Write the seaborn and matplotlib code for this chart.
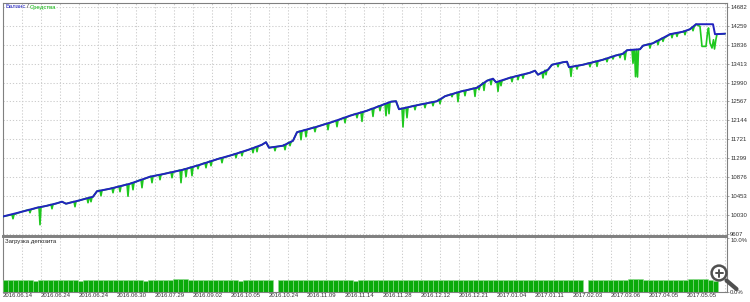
import numpy as np
import pandas as pd
import matplotlib
matplotlib.use("Agg")
import matplotlib.pyplot as plt
from matplotlib.patches import Circle
from matplotlib.lines import Line2D
from matplotlib.transforms import IdentityTransform
import seaborn as sns

# ---------------- data ----------------
bal_deal = [0, 17, 34, 44, 54, 59, 63, 77, 90, 94, 107, 127, 147, 162, 180, 197, 214, 230, 247, 259,
            263, 266, 280, 290, 294, 314, 330, 347, 364, 380, 388, 393, 396, 414, 434, 442, 457, 474, 484, 490,
            493, 507, 527, 532, 535, 545, 549, 560, 564, 566, 580, 600, 612, 620, 624, 637, 640, 650, 667, 680,
            687, 693, 710, 712, 722]
bal_value = [10000, 10095, 10196, 10240, 10296, 10330, 10285, 10363, 10441, 10564, 10620, 10731, 10888, 10955, 11044, 11155, 11278, 11379, 11501, 11602,
             11658, 11535, 11580, 11691, 11881, 12004, 12115, 12249, 12361, 12495, 12562, 12573, 12394, 12483, 12573, 12684, 12785, 12874, 13030, 13075,
             12997, 13097, 13209, 13254, 13164, 13276, 13387, 13443, 13454, 13332, 13387, 13499, 13588, 13633, 13711, 13733, 13812, 13867, 14068, 14124,
             14180, 14291, 14291, 14068, 14079]

dip_deal = [10, 27, 37, 49, 72, 85, 88, 98, 110, 117, 125, 130, 139, 149, 157, 169, 178, 183, 189, 195,
            203, 208, 219, 233, 239, 250, 254, 272, 282, 287, 298, 303, 312, 325, 334, 342, 354, 359, 370, 377,
            383, 386, 400, 404, 412, 422, 430, 437, 449, 455, 462, 472, 476, 481, 488, 495, 498, 509, 515, 520,
            540, 543, 555, 568, 574, 587, 594, 604, 610, 617, 622, 630, 632.5, 634.5, 647, 655, 660, 669, 674, 682,
            690]
dip_top = [10042, 10153, 10209, 10267, 10334, 10410, 10430, 10582, 10635, 10676, 10720, 10754, 10825, 10897, 10932, 10990, 11035, 11064, 11102, 11142,
           11200, 11236, 11309, 11401, 11443, 11526, 11559, 11555, 11602, 11658, 11905, 11937, 11992, 12079, 12142, 12209, 12296, 12327, 12410, 12470,
           12519, 12544, 12414, 12434, 12475, 12519, 12555, 12615, 12731, 12771, 12812, 12863, 12905, 12986, 13059, 13008, 13028, 13108, 13142, 13169,
           13220, 13265, 13414, 13338, 13363, 13425, 13466, 13528, 13573, 13615, 13666, 13722, 13722, 13727, 13849, 13925, 13977, 14077, 14093, 14140,
           14224]
dip_low = [9950, 10084, 9816, 10173, 10218, 10307, 10330, 10464, 10530, 10553, 10452, 10597, 10642, 10754, 10821, 10865, 10754, 10888, 10910, 11066,
           11088, 11133, 11200, 11312, 11356, 11423, 11446, 11468, 11490, 11580, 11713, 11780, 11892, 11937, 12004, 12093, 12204, 12122, 12233, 12361,
           12249, 12294, 11997, 12204, 12383, 12428, 12472, 12517, 12673, 12562, 12696, 12680, 12829, 12814, 12941, 12792, 12919, 13008, 13053, 13086,
           13091, 13164, 13343, 13126, 13291, 13343, 13350, 13454, 13515, 13544, 13499, 13420, 13120, 13113, 13760, 13834, 13908, 13990, 14019, 14057,
           14146]

eq_tail_deal = [693, 697, 699, 703, 704.5, 705.5, 707, 709, 710.5, 711.5, 713, 714, 722]
eq_tail_value = [14291, 14242, 13796, 13796, 14102, 14207, 13872, 13760, 13945, 13738, 13961, 14068, 14079]

load = [2.1, 2.2, 2.1, 2.1, 2.2, 2.1, 2.0, 2.1, 2.2, 2.1,
        2.1, 2.1, 2.2, 2.1, 2.1, 2.0, 2.1, 2.2, 2.1, 2.1,
        2.1, 2.2, 2.1, 2.1, 2.1, 2.2, 2.1, 2.1, 2.0, 2.1,
        2.1, 2.2, 2.1, 2.1, 2.4, 2.4, 2.4, 2.1, 2.1, 2.2,
        2.1, 2.1, 2.1, 2.2, 2.1, 2.1, 2.1, 2.0, 2.1, 2.1,
        2.2, 2.1, 2.1, 2.1, 0.0, 2.1, 2.2, 2.1, 2.1, 2.1,
        2.1, 2.2, 2.1, 2.1, 2.1, 2.1, 2.2, 2.1, 2.1, 2.1,
        2.0, 2.1, 2.1, 2.1, 2.1, 2.1, 2.1, 2.1, 2.2, 2.1,
        2.1, 2.1, 2.1, 2.1, 2.1, 2.2, 2.1, 2.1, 2.1, 2.1,
        2.1, 2.1, 2.1, 2.1, 2.1, 2.1, 2.1, 2.1, 2.1, 2.1,
        2.1, 2.1, 2.1, 2.1, 2.1, 2.1, 2.1, 2.1, 2.1, 2.1,
        2.1, 2.1, 2.1, 2.1, 2.1, 2.1, 0.0, 2.1, 2.1, 2.1,
        2.1, 2.1, 2.1, 2.1, 2.1, 2.3, 2.3, 2.3, 2.1, 2.1,
        2.1, 2.1, 2.1, 2.1, 2.1, 2.1, 2.1, 2.3, 2.3, 2.3,
        2.3, 2.1, 2.0]

y_ticks = [9607, 10030, 10453, 10876, 11299, 11721, 12144, 12567, 12990, 13413, 13836, 14259, 14682]
x_labels = ["2016.06.14", "2016.06.24", "2016.06.24", "2016.06.30", "2016.07.29", "2016.09.02",
            "2016.10.05", "2016.10.24", "2016.11.09", "2016.11.14", "2016.11.28", "2016.12.12",
            "2016.12.21", "2017.01.04", "2017.01.11", "2017.02.03", "2017.03.06", "2017.04.05",
            "2017.05.05"]

# ---------------- build tables ----------------
bal_df = pd.DataFrame({"deal": bal_deal, "value": bal_value})

eq_d = [d for d in bal_deal if d < 693]
eq_v = [v for d, v in zip(bal_deal, bal_value) if d < 693]
for d, t, lo in zip(dip_deal, dip_top, dip_low):
    eq_d += [d - 1, d, d + 1]
    eq_v += [t, lo, t]
eq_d += eq_tail_deal
eq_v += eq_tail_value
eq_df = pd.DataFrame({"deal": eq_d, "value": eq_v}).sort_values("deal", kind="mergesort")

load_df = pd.DataFrame({"deal": np.arange(len(load)) * 5 + 2.5, "load": load})

# ---------------- style ----------------
sns.set_style("white")
plt.rcParams["font.family"] = ["Liberation Sans", "DejaVu Sans"]

W, H = 750, 302
fig = plt.figure(figsize=(W / 100, H / 100), dpi=100)
fig.patch.set_facecolor("white")

ax = fig.add_axes([3 / W, 1 - 235.5 / H, 724 / W, 232.5 / H])
ax2 = fig.add_axes([3 / W, 1 - 291.5 / H, 724 / W, 54.5 / H])

grid_kw = dict(color="#cdcdcd", linestyle=(0, (1.2, 1.8)), linewidth=0.75)
txt_col = "#303030"
fs = 4.3

# main chart
sns.lineplot(data=eq_df, x="deal", y="value", ax=ax, sort=False, estimator=None,
             color="#1ec81e", linewidth=1.2, zorder=3)
sns.lineplot(data=bal_df, x="deal", y="value", ax=ax, sort=False, estimator=None,
             color="#2222c0", linewidth=1.4, zorder=4)
ax.set_xlim(0, 724)
ax.set_ylim(9575.8, 14764.6)
ax.set_yticks(y_ticks)
ax.set_yticklabels([str(v) for v in y_ticks])
ax.set_xticks(np.arange(0, 724, 19))
ax.tick_params(axis="x", length=0, labelbottom=False)
ax.yaxis.tick_right()
ax.tick_params(axis="y", length=1.5, width=0.5, color="#808080", pad=0.8,
               labelsize=fs, labelcolor=txt_col, left=False, right=True)
ax.grid(True, **grid_kw)
ax.set_xlabel("")
ax.set_ylabel("")
for s in ax.spines.values():
    s.set_color("#808080")
    s.set_linewidth(0.8)
ax.spines["bottom"].set_linewidth(1.4)

# deposit load panel
sns.barplot(data=load_df, x="deal", y="load", ax=ax2, native_scale=True, width=1.0,
            color="#0aaa0a", saturation=1, errorbar=None, edgecolor="#8fdc8f",
            linewidth=0.4, zorder=3)
ax2.set_xlim(0, 724)
ax2.set_ylim(0, 10.26)
ax2.set_yticks([0, 10])
ax2.set_yticklabels(["0.0%", "10.0%"])
ax2.yaxis.tick_right()
ax2.tick_params(axis="y", length=1.5, width=0.5, color="#808080", pad=0.8,
                labelsize=fs, labelcolor=txt_col, left=False, right=True)
yl = ax2.get_yticklabels()
yl[1].set_va("top")
ticks19 = np.arange(0, 724, 19)
ax2.set_xticks(ticks19)
ax2.set_xticklabels([x_labels[i // 2] if i % 2 == 0 and i // 2 < len(x_labels) else ""
                     for i in range(len(ticks19))])
ax2.tick_params(axis="x", length=0, pad=1.2, labelsize=fs, labelcolor=txt_col)
for lab in ax2.get_xticklabels():
    lab.set_ha("left")
ax2.grid(True, axis="x", **grid_kw)
ax2.set_xlabel("")
ax2.set_ylabel("")
for s in ax2.spines.values():
    s.set_color("#808080")
    s.set_linewidth(0.8)
ax2.spines["top"].set_linewidth(1.4)

# panel titles
renderer = fig.canvas.get_renderer()
ty = 1 - 7 / H
t1 = fig.text(5 / W, ty, "Баланс", color="#2222c0", fontsize=fs, va="center", ha="left")
bb = t1.get_window_extent(renderer)
t2 = fig.text((bb.x1 + 1.5) / W, ty, "/", color="#202020", fontsize=fs, va="center", ha="left")
bb2 = t2.get_window_extent(renderer)
fig.text((bb2.x1 + 1.5) / W, ty, "Средства", color="#10b810", fontsize=fs, va="center", ha="left")
fig.text(5 / W, 1 - 241 / H, "Загрузка депозита", color="#202020", fontsize=fs, va="center", ha="left")

# magnifier icon overlay
idt = IdentityTransform()
cx, cy = 719, H - 273
fig.add_artist(Line2D([726.5, 736.5], [H - 280.5, H - 289], transform=idt, color="#505050",
                      linewidth=3.0, solid_capstyle="round"))
fig.add_artist(Circle((cx, cy), 7.4, transform=idt, facecolor=(1, 1, 1, 0.85),
                      edgecolor="#505050", linewidth=1.8))
fig.add_artist(Line2D([cx - 3.5, cx + 3.5], [cy, cy], transform=idt, color="#505050", linewidth=1.4))
fig.add_artist(Line2D([cx, cx], [cy - 3.5, cy + 3.5], transform=idt, color="#505050", linewidth=1.4))

fig.savefig("out.png", dpi=100, facecolor="white")
